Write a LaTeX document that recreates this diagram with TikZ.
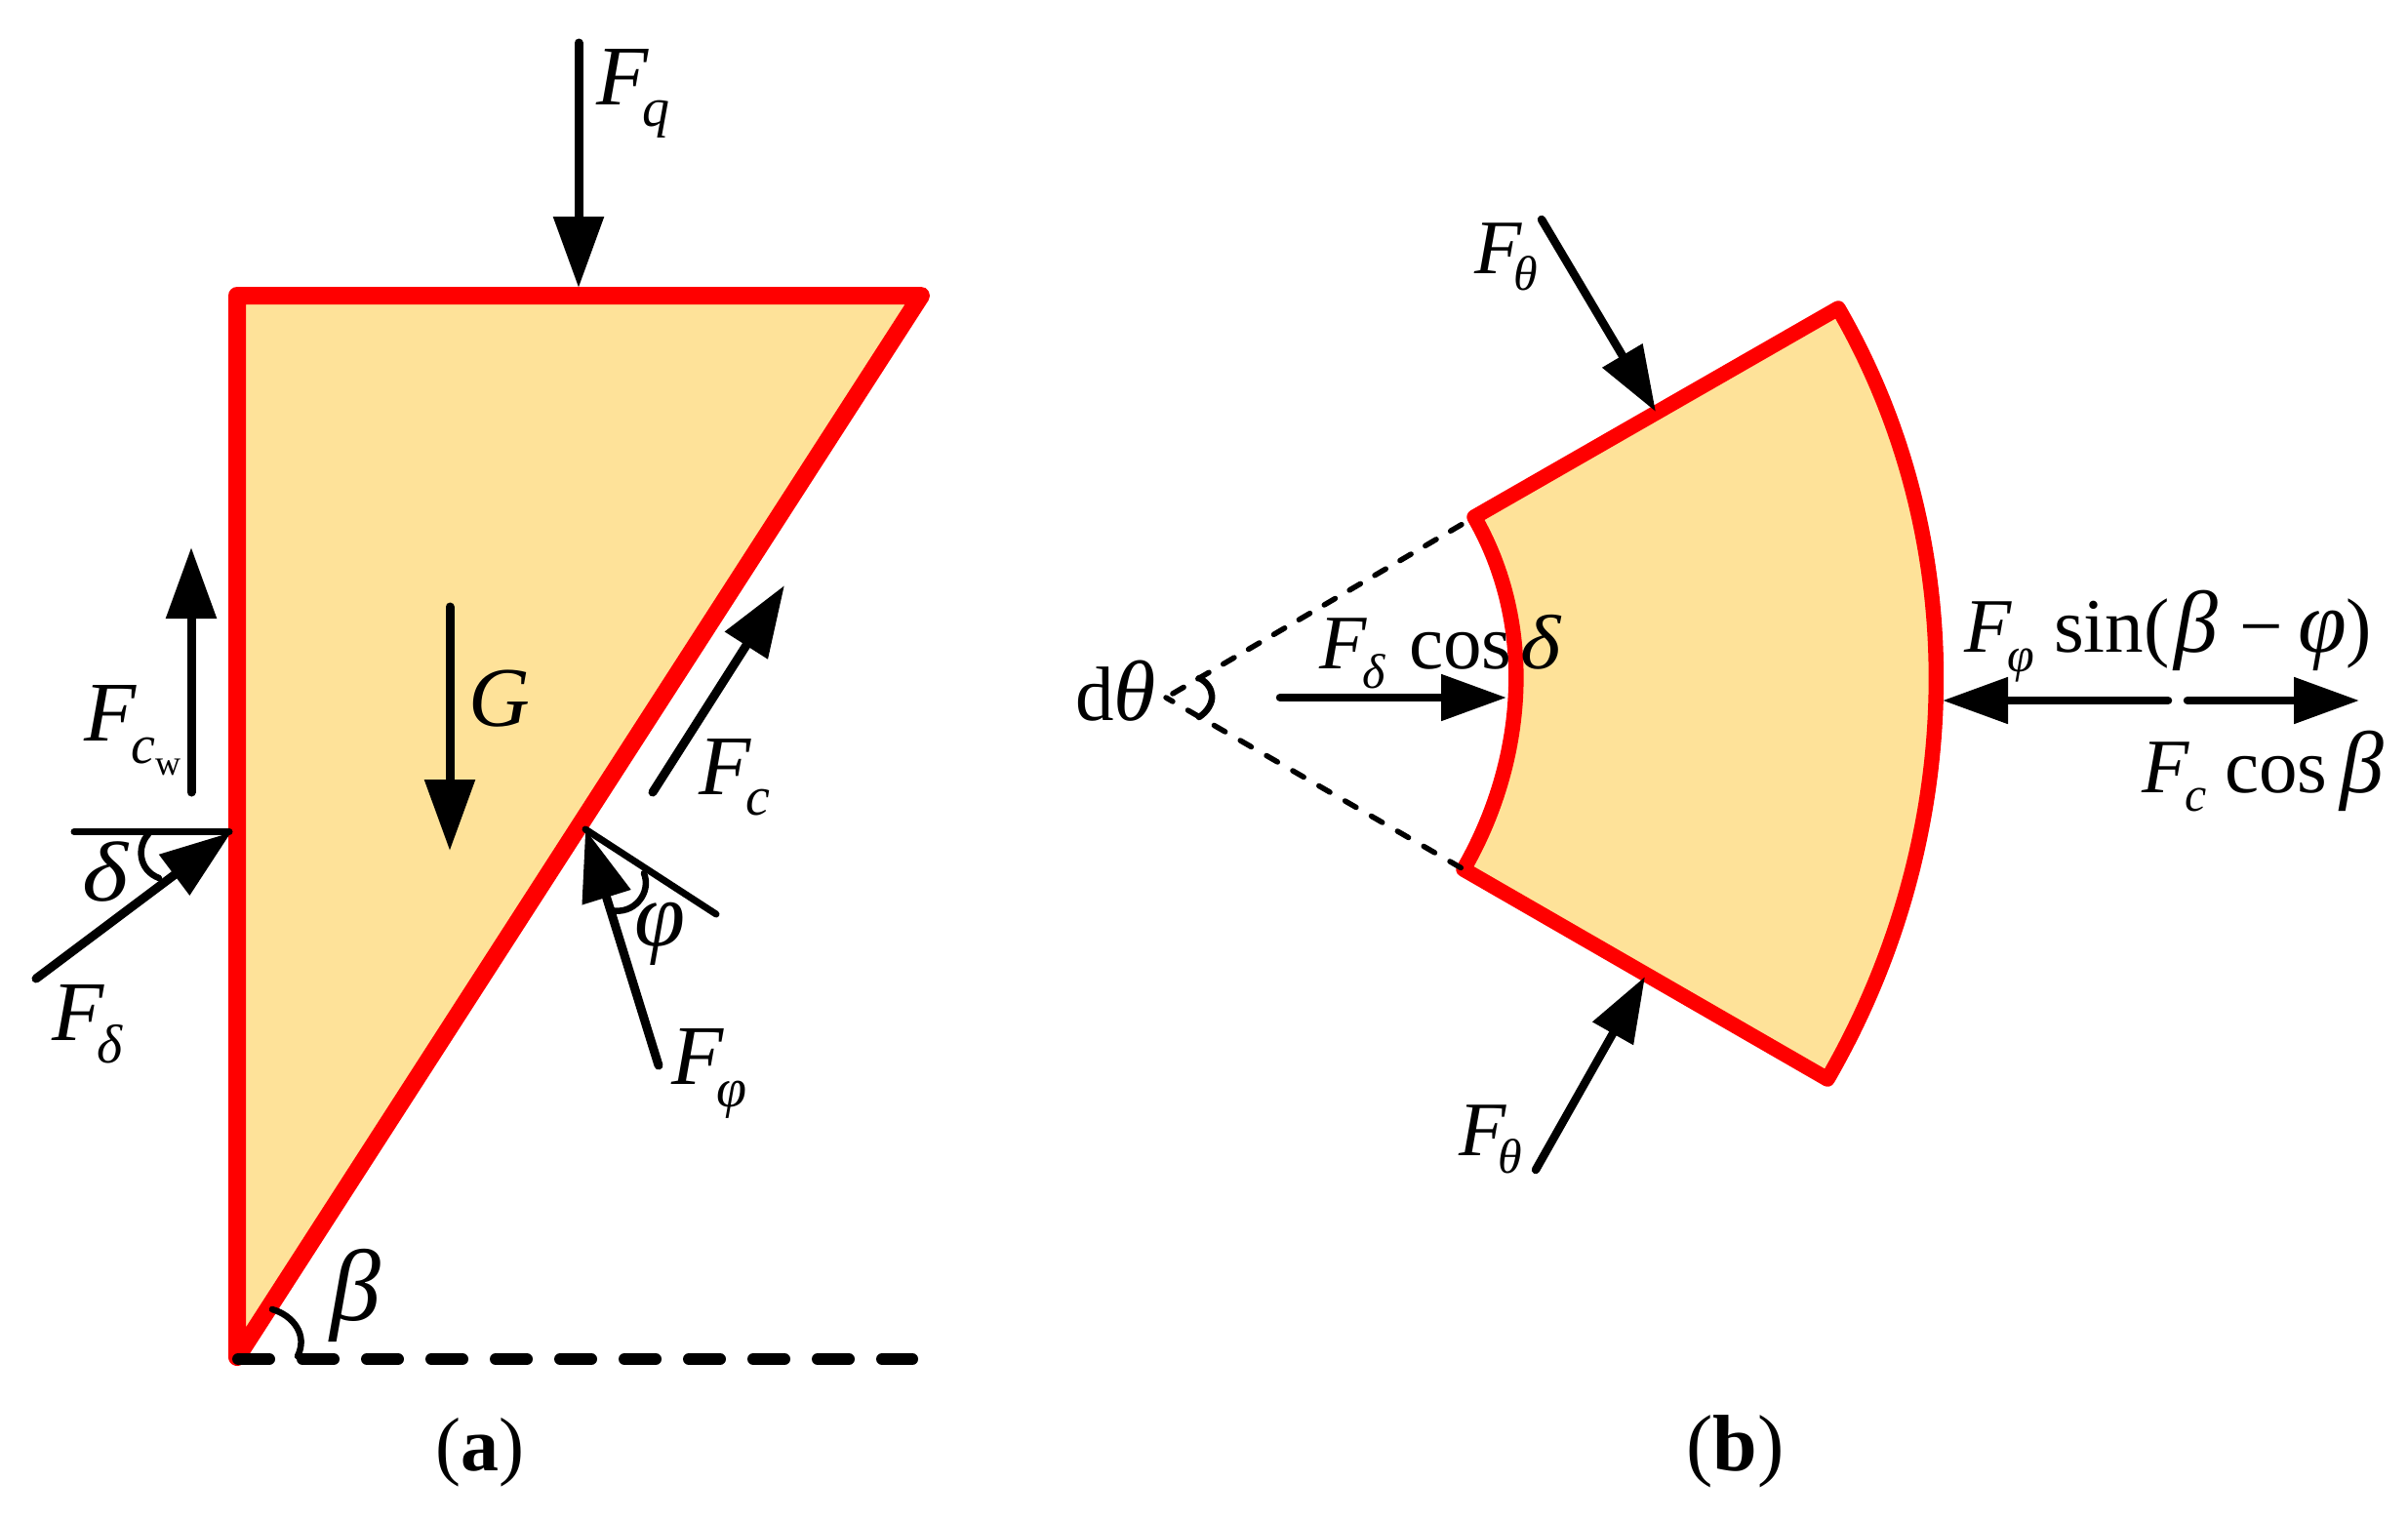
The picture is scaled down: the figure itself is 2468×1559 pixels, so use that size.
\documentclass[tikz,border=0pt]{standalone}
\usepackage{fontspec}
\setmainfont{Liberation Serif}
\usetikzlibrary{arrows.meta}
\definecolor{sandfill}{RGB}{254,226,153}
\newcommand\low[3]{\raisebox{-#1pt}{\fontsize{#2pt}{#2pt}\selectfont #3}}
\newcommand\wid[2]{\scalebox{#1}[1]{#2}}
\tikzset{
  x=1pt,y=-1pt,
  redline/.style={draw=red,fill=sandfill,line join=round},
  force/.style={draw=black,line width=9pt,line cap=round,-{Triangle[length=73pt,width=50pt]}},
  forceb/.style={draw=black,line width=8.5pt,line cap=round,-{Triangle[length=67pt,width=46pt]}},
  thinl/.style={draw=black,line width=7pt,line cap=round},
  anglearc/.style={draw=black,line width=6.5pt,line cap=round},
  biglbl/.style={inner sep=0pt,anchor=base west,font=\fontsize{87pt}{90pt}\selectfont\itshape},
  medlbl/.style={inner sep=0pt,anchor=base west,font=\fontsize{79pt}{82pt}\selectfont\itshape},
  caplbl/.style={inner sep=0pt,anchor=base west,font=\fontsize{78pt}{82pt}\selectfont},
}
\begin{document}
\begin{tikzpicture}
\path[use as bounding box] (0,0) rectangle (2468,1559);
% panel a coordinates
\coordinate (A) at (243,303);
\coordinate (B) at (944,303);
\coordinate (D) at (243,1391);
\coordinate (Dend) at (935,1393);
\coordinate (Dstart) at (244,1393);
\coordinate (qT) at (593,44);
\coordinate (qH) at (593,295);
\coordinate (cwT) at (196,812);
\coordinate (cwH) at (196,561);
\coordinate (gT) at (461,622);
\coordinate (gH) at (461,872);
\coordinate (cT) at (669,812);
\coordinate (cH) at (804,600);
\coordinate (phT) at (675,1092);
\coordinate (phH) at (600,850);
\coordinate (phN) at (734,937);
\coordinate (phS) at (600,850);
\coordinate (deT) at (37,1003);
\coordinate (deH) at (237,853);
\coordinate (deN) at (76,852.5);
\coordinate (deS) at (235,852.5);
% panel a shape
\draw[redline,line width=18pt] (A) -- (B) -- (D) -- cycle;
\draw[draw=black,line width=12pt,line cap=round,dash pattern=on 32pt off 34pt] (Dstart) -- (Dend);
\draw[force] (qT) -- (qH);
\draw[force] (cwT) -- (cwH);
\draw[force] (gT) -- (gH);
\draw[force] (cT) -- (cH);
\draw[force] (phT) -- (phH);
\draw[force] (deT) -- (deH);
\draw[thinl] (phS) -- (phN);
\draw[thinl] (deN) -- (deS);
\draw[anglearc] (152,855) .. controls (140,868) and (142,892) .. (163,900);
\draw[anglearc] (660,895) .. controls (668,915) and (650,938) .. (626,933);
\draw[anglearc] (279,1342) .. controls (300,1348) and (316,1368) .. (305,1390);
% panel a labels
\node[biglbl] (lq) at (611,107) {F\kern-6pt\low{22}{56}{q}};
\node[biglbl] (lg) at (480,744) {G};
\node[biglbl] (lcw) at (86,759) {F\kern-5pt\low{23}{56}{c}\low{35}{36}{\upshape w}};
\node[biglbl] (lc) at (716,814) {F\kern-5pt\low{21}{56}{c}};
\node[biglbl] (ld) at (84,923) {\wid{1.16}{δ}};
\node[biglbl] (lfd) at (53,1066) {F\kern-7pt\low{23}{56}{δ}};
\node[biglbl,font=\fontsize{94pt}{98pt}\selectfont\itshape] (lp) at (650,969) {φ};
\node[biglbl] (lfp) at (688,1111) {F\kern-7pt\low{23}{56}{φ}};
\node[biglbl,font=\fontsize{104pt}{110pt}\selectfont\itshape] (lb) at (338,1353) {β};
\node[caplbl] (capa) at (446,1507) {(\textbf{a})};
% panel b
\coordinate (C) at (1195,715);
\coordinate (P1) at (1511,530);
\coordinate (Q1) at (1884,316);
\coordinate (Q2) at (1873,1106);
\coordinate (P2) at (1500,891);
\draw[redline,line width=15.5pt] (P1) -- (Q1) .. controls (2025,560) and (2014,862) .. (Q2) -- (P2) .. controls (1564,780) and (1575,641) .. (P1) -- cycle;
\draw[draw=black,line width=5.5pt,line cap=round,dash pattern=on 13pt off 17pt,dash phase=22pt] (C) -- (P1);
\draw[draw=black,line width=5.5pt,line cap=round,dash pattern=on 13pt off 18pt,dash phase=5pt] (C) -- (P2);
\draw[anglearc] (1229,695) .. controls (1245,703) and (1248,722) .. (1229,735);
\coordinate (t1T) at (1580,225);
\coordinate (t1H) at (1697,422);
\coordinate (t2T) at (1574,1199);
\coordinate (t2H) at (1686,1001);
\coordinate (fdT) at (1312,715);
\coordinate (fdH) at (1544,715);
\coordinate (fpT) at (2222,718);
\coordinate (fpH) at (1991,718);
\coordinate (fcT) at (2242,718);
\coordinate (fcH) at (2418,718);
\draw[forceb] (t1T) -- (t1H);
\draw[forceb] (t2T) -- (t2H);
\draw[forceb] (fdT) -- (fdH);
\draw[forceb] (fpT) -- (fpH);
\draw[forceb] (fcT) -- (fcH);
% panel b labels
\node[medlbl] (lt1) at (1511,280) {F\kern-8pt\low{17}{50}{θ}};
\node[medlbl] (lt2) at (1495,1184) {F\kern-8pt\low{18}{50}{θ}};
\node[medlbl] (ldth) at (1102,738) {\upshape d\itshape\fontsize{88pt}{90pt}\selectfont θ};
\node[medlbl] (lfd2) at (1352,685) {F\kern-4pt\low{20}{50}{δ}};
\node[medlbl] (lcos1) at (1444,685) {\upshape cos};
\node[medlbl] (ldl2) at (1558,685) {\wid{1.12}{δ}};
\node[medlbl] (lfp2) at (2013,668) {F\kern-4pt\low{20}{50}{φ}};
\node[medlbl] (lsin) at (2105,668) {\upshape sin(};
\node[medlbl,font=\fontsize{90pt}{92pt}\selectfont\itshape] (lsb) at (2228,668) {β};
\node[medlbl] (lsm) at (2295,668) {\upshape −};
\node[medlbl,font=\fontsize{90pt}{92pt}\selectfont\itshape] (lsp) at (2355,668) {φ};
\node[medlbl] (lsc) at (2404,668) {\upshape )};
\node[medlbl] (lfc2) at (2195,812) {F\kern-4pt\low{19}{50}{c}};
\node[medlbl] (lcos2) at (2280,812) {\upshape cos};
\node[medlbl,font=\fontsize{90pt}{92pt}\selectfont\itshape] (lb2) at (2398,812) {β};
\node[caplbl,font=\fontsize{82pt}{86pt}\selectfont] (capb) at (1728,1507) {(\textbf{b})};
\end{tikzpicture}
\end{document}
